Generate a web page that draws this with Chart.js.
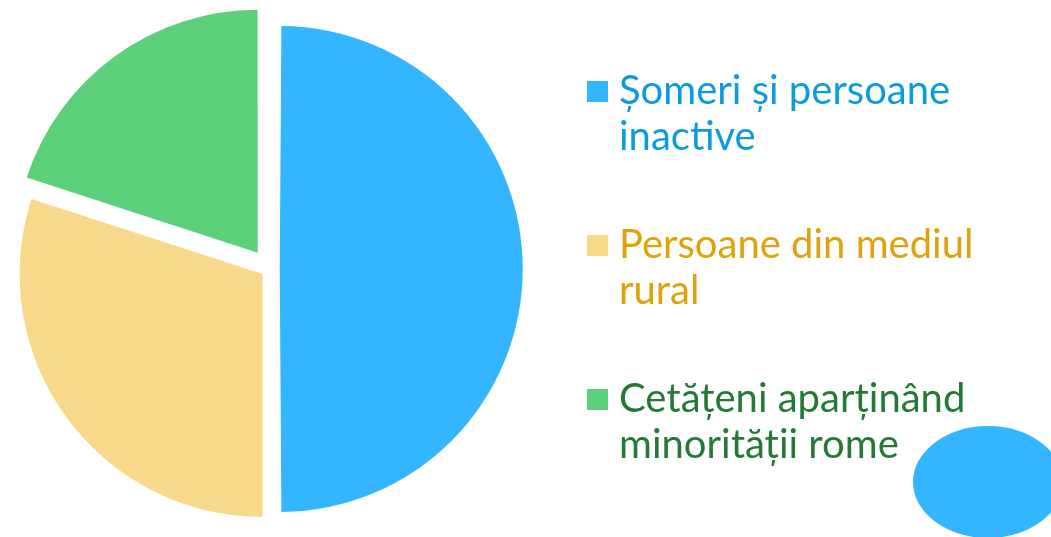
<!DOCTYPE html>
<html>
<head>
<meta charset="utf-8">
<script src="https://cdn.jsdelivr.net/npm/chart.js@4"></script>
<style>
  html, body { margin: 0; padding: 0; background: #fff; }
  body { width: 1051px; height: 537px; position: relative; overflow: hidden; font-family: Lato, "Open Sans", sans-serif; }
  #pie { position: absolute; left: -30px; top: -30px; }
  .blob { position: absolute; left: 913px; top: 426px; width: 150px; height: 112px; border-radius: 50%; background: #33b5ff; }
  .legend { position: absolute; left: 587px; top: 0; }
  .item { position: absolute; left: 0; width: 460px; }
  .item .box { position: absolute; left: 0; width: 21px; height: 21px; }
  .item .txt { position: absolute; left: 32px; font-size: 40px; line-height: 46px; white-space: nowrap; }
</style>
</head>
<body>
<canvas id="pie" width="1111" height="597"></canvas>
<div class="blob"></div>
<div class="legend" id="legend"></div>
<script>
  // categories (split in lines as on the slide)
  const labels = [
    ['Șomeri și persoane', 'inactive'],
    ['Persoane din mediul', 'rural'],
    ['Cetățeni aparținând', 'minorității rome']
  ];
  // share of each group, %
  const values = [50, 30, 20];

  const sliceColors = ['#33b5ff', '#f8d98c', '#5cd07a'];
  const textColors = ['#0d9be0', '#e0a20c', '#237a35'];

  // chart.js moves an arc by offset/4 and also grows its radius for
  // wide slices; undo the growth so every slice keeps the same radius
  const sameRadius = {
    id: 'sameRadius',
    afterDatasetUpdate(chart, args) {
      args.meta.data.forEach(arc => {
        const off = (arc.options.offset || 0) / 4;
        const fix = 1 - Math.sin(Math.min(Math.PI, arc.circumference || 0));
        arc.outerRadius -= off * fix;
      });
    }
  };

  const ctx = document.getElementById('pie').getContext('2d');
  const pieChart = new Chart(ctx, {
    type: 'pie',
    data: {
      labels: labels.map(l => l.join(' ')),
      datasets: [{
        data: values,
        backgroundColor: sliceColors,
        borderWidth: 0,
        offset: [41, 34, 80],
        clip: false
      }]
    },
    options: {
      responsive: false,
      animation: false,
      layout: {
        padding: { left: 16.5, top: 16, right: 528.5, bottom: 15 }
      },
      plugins: {
        legend: { display: false },
        tooltip: { enabled: false }
      }
    },
    plugins: [sameRadius]
  });

  // html legend, lines as in the original
  const legendEl = document.getElementById('legend');
  const firstBaselines = [102, 256, 410];
  labels.forEach((lines, i) => {
    const item = document.createElement('div');
    item.className = 'item';
    item.style.top = (firstBaselines[i] - 21) + 'px';
    const box = document.createElement('div');
    box.className = 'box';
    box.style.background = sliceColors[i];
    box.style.top = '0px';
    const txt = document.createElement('div');
    txt.className = 'txt';
    txt.style.color = textColors[i];
    txt.style.top = '-15px';
    txt.innerHTML = lines.join('<br>');
    item.appendChild(box);
    item.appendChild(txt);
    legendEl.appendChild(item);
  });
</script>
</body>
</html>
